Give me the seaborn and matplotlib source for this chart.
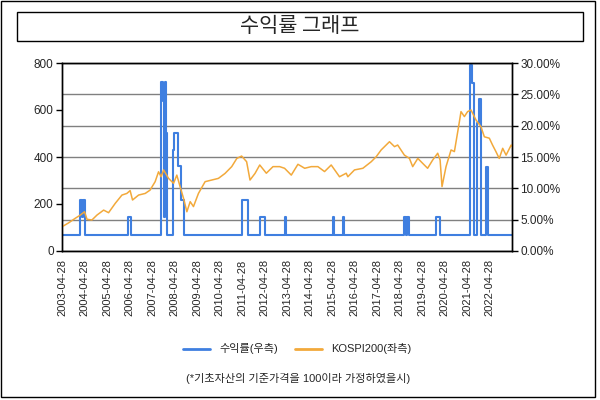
import pandas as pd
import matplotlib
matplotlib.use('Agg')
import matplotlib.pyplot as plt
import matplotlib.ticker as mticker
from matplotlib.lines import Line2D
from matplotlib.patches import Rectangle
import seaborn as sns

# 수익률(우측) : 계단형 (날짜, 그 날부터의 값 %)
ret_dates = ['2003-04-28', '2004-02-14', '2004-03-17', '2004-04-07', '2004-05-09',
             '2006-04-06', '2006-05-15',
             '2007-09-29', '2007-10-25', '2007-11-05', '2007-12-03', '2007-12-19', '2007-12-29',
             '2008-03-26', '2008-04-21', '2008-06-15', '2008-08-08', '2008-09-25',
             '2011-05-03', '2011-08-02', '2012-02-08', '2012-05-10', '2013-03-30', '2013-04-13',
             '2015-05-10', '2015-06-02', '2015-10-20', '2015-11-03',
             '2018-07-15', '2018-08-11', '2018-09-01', '2018-10-04', '2019-12-10', '2020-02-13',
             '2021-06-18', '2021-07-25', '2021-08-22', '2021-10-14', '2021-11-11', '2021-12-13',
             '2022-02-27', '2022-03-09', '2022-04-10', '2023-04-28']
ret_values = [2.6, 8.1, 5.4, 8.1, 2.6,
              5.4, 2.6,
              27.0, 24.0, 5.4, 27.0, 18.8, 2.6,
              16.1, 18.8, 13.5, 8.1, 2.6,
              8.1, 2.6, 5.4, 2.6, 5.4, 2.6,
              5.4, 2.6, 5.4, 2.6,
              5.4, 2.6, 5.4, 2.6, 5.4, 2.6,
              29.7, 26.8, 2.6, 20.4, 24.2, 2.6,
              10.8, 13.45, 2.6, 2.6]

# KOSPI200(좌측), 기준가 100
kospi_dates = ['2003-04-28', '2003-08-15', '2003-11-28', '2004-02-20', '2004-04-28', '2004-06-07',
               '2004-08-26', '2004-11-16', '2005-03-04', '2005-05-23', '2005-09-09', '2005-12-26',
               '2006-03-16', '2006-05-08', '2006-06-16', '2006-09-22', '2007-01-08', '2007-03-27',
               '2007-06-18', '2007-08-12', '2007-09-24', '2007-11-02', '2008-01-22', '2008-04-12',
               '2008-06-04', '2008-07-27', '2008-09-21', '2008-11-14', '2009-01-07', '2009-03-01',
               '2009-05-21', '2009-09-06', '2009-12-23', '2010-04-10', '2010-07-26', '2010-11-12',
               '2011-02-03', '2011-04-22', '2011-07-12', '2011-09-05', '2011-11-25', '2012-02-10',
               '2012-05-27', '2012-09-12', '2012-12-29', '2013-03-19', '2013-07-06', '2013-10-22',
               '2014-02-09', '2014-05-26', '2014-09-11', '2014-12-28', '2015-04-15', '2015-08-28',
               '2015-12-15', '2016-01-10', '2016-04-27', '2016-09-10', '2017-01-24', '2017-04-14',
               '2017-07-04', '2017-11-16', '2018-02-06', '2018-03-29', '2018-07-16', '2018-10-06',
               '2018-11-28', '2019-02-19', '2019-05-09', '2019-07-28', '2019-10-18', '2020-01-08',
               '2020-02-16', '2020-03-18', '2020-05-22', '2020-08-12', '2020-10-05', '2020-12-25',
               '2021-01-20', '2021-03-16', '2021-05-07', '2021-07-01', '2021-09-22', '2021-12-10',
               '2022-02-03', '2022-04-25', '2022-06-16', '2022-08-10', '2022-10-03', '2022-11-28',
               '2023-01-22', '2023-04-15', '2023-04-28']
kospi_values = [103, 120, 139, 153, 167, 135,
                132, 153, 174, 163, 203, 238,
                245, 257, 217, 238, 245, 259,
                295, 337, 316, 345, 309, 288,
                323, 274, 224, 167, 210, 189,
                245, 295, 302, 309, 330, 359,
                394, 404, 380, 302, 330, 366,
                331, 359, 359, 352, 323, 369,
                352, 359, 359, 338, 366, 316,
                331, 316, 345, 352, 380, 401,
                430, 465, 444, 451, 408, 394,
                359, 394, 373, 352, 387, 416,
                387, 274, 359, 430, 423, 550,
                593, 572, 593, 600, 557, 529,
                486, 480, 451, 423, 394, 437,
                408, 451, 445]

tick_labels = ['%d-04-28' % y for y in range(2003, 2023)]

BLUE = '#3F7FE0'
ORANGE = '#F2A93B'

sns.set_style('white')
plt.rcParams['font.family'] = ['Liberation Sans', 'Noto Sans CJK KR']
plt.rcParams['font.size'] = 8

fig = plt.figure(figsize=(6, 4), dpi=100)
ax = fig.add_axes([62 / 600, 1 - 251 / 400, 450 / 600, 188 / 400])
ax2 = ax.twinx()

ret = pd.DataFrame({'date': pd.to_datetime(ret_dates), 'value': ret_values})
kospi = pd.DataFrame({'date': pd.to_datetime(kospi_dates), 'value': kospi_values})

sns.lineplot(data=ret, x='date', y='value', ax=ax2, color=BLUE, linewidth=1.5,
             drawstyle='steps-post', estimator=None)
sns.lineplot(data=kospi, x='date', y='value', ax=ax, color=ORANGE, linewidth=1.1,
             estimator=None)

ax.set_zorder(ax2.get_zorder() + 1)
ax.patch.set_visible(False)

ax.set_xlim(pd.Timestamp('2003-04-28'), pd.Timestamp('2023-04-28'))
ax.set_ylim(0, 800)
ax.set_yticks([0, 200, 400, 600, 800])
ax2.set_ylim(0, 30)
ax2.set_yticks([0, 5, 10, 15, 20, 25, 30])
ax2.yaxis.set_major_formatter(mticker.FuncFormatter(lambda v, p: '%.2f%%' % v))
ax2.yaxis.grid(True, color='#808080', linewidth=1)
ax2.set_axisbelow(True)

ax.set_xticks(pd.to_datetime(tick_labels))
ax.set_xticklabels(tick_labels, rotation=90)
ax.set_xlabel('')
ax.set_ylabel('')
ax2.set_ylabel('')

for a in (ax, ax2):
    for s in a.spines.values():
        s.set_color('black')
        s.set_linewidth(1)
    a.tick_params(axis='y', length=4, width=1, color='black', labelsize=8.5, pad=2)
ax.tick_params(axis='x', length=0, labelsize=8, pad=6)
ax.tick_params(axis='y', left=True)
ax2.tick_params(axis='y', right=True)

# 제목 박스
fig.patches.append(Rectangle((17 / 600, 1 - 41 / 400), 566 / 600, 29 / 400,
                             transform=fig.transFigure, fill=False, edgecolor='black', linewidth=1))
fig.text(0.5, 1 - 26 / 400, '수익률 그래프', ha='center', va='center', fontsize=15,
         family=['Noto Sans CJK KR', 'DejaVu Sans'])
# 바깥 테두리
fig.patches.append(Rectangle((1 / 600, 1 - 397 / 400), 594 / 600, 396 / 400,
                             transform=fig.transFigure, fill=False, edgecolor='black', linewidth=1))

handles = [Line2D([], [], color=BLUE, linewidth=2), Line2D([], [], color=ORANGE, linewidth=2)]
fig.legend(handles, ['수익률(우측)', 'KOSPI200(좌측)'], loc='center', ncol=2,
           bbox_to_anchor=(297 / 600, 1 - 349 / 400), frameon=False, fontsize=8,
           handlelength=2.5, columnspacing=1.5)
fig.text(298 / 600, 1 - 378 / 400, '(*기초자산의 기준가격을 100이라 가정하였을시)',
         ha='center', va='center', fontsize=8)

fig.savefig('out.png', dpi=100)
